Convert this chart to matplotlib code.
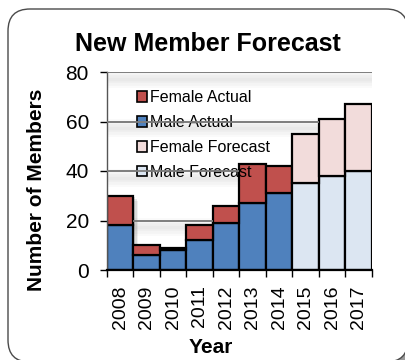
import matplotlib
matplotlib.use("Agg")
import matplotlib.pyplot as plt
import matplotlib.patheffects as pe
import matplotlib.transforms as mtransforms
from matplotlib.patches import FancyBboxPatch, Patch
import numpy as np

plt.rcParams["font.family"] = ["Liberation Sans", "DejaVu Sans"]

# member counts per year
years = ["2008", "2009", "2010", "2011", "2012", "2013", "2014", "2015", "2016", "2017"]
male_actual = [18, 6, 8, 12, 19, 27, 31]
female_actual = [12, 4, 1, 6, 7, 16, 11]
male_forecast = [35, 38, 40]
female_forecast = [20, 23, 27]
y_ticks = [0, 20, 40, 60, 80]

c_female_act = "#C0504D"
c_male_act = "#4F81BD"
c_female_fc = "#F2DCDB"
c_male_fc = "#DCE6F2"
c_grid = "#7f7f7f"

W, H = 406, 360
fig = plt.figure(figsize=(W / 100, H / 100), dpi=100)

# rounded frame with a small drop shadow
px = mtransforms.IdentityTransform()
shadow_box = FancyBboxPatch((11, -5), 400, 353, boxstyle="round,pad=0,rounding_size=22",
                            transform=px, fc="#9a9a9a", ec="none", zorder=-3)
frame = FancyBboxPatch((8, -2), 400, 353, boxstyle="round,pad=0,rounding_size=22",
                       transform=px, fc="white", ec="#4a4a4a", lw=1.0, zorder=-2)
fig.add_artist(shadow_box)
fig.add_artist(frame)

ax = fig.add_axes([107 / W, 90 / H, 265 / W, 198 / H])
ax.patch.set_alpha(0)

x = np.arange(len(years))
xa = x[:len(male_actual)]
xf = x[len(male_actual):]
totals = list(np.add(male_actual, female_actual)) + list(np.add(male_forecast, female_forecast))

# gridlines with a soft shadow underneath
grid_fx = [
    pe.SimpleLineShadow(offset=(1.5, -5), shadow_color="k", alpha=0.018, linewidth=13),
    pe.SimpleLineShadow(offset=(1.5, -5), shadow_color="k", alpha=0.022, linewidth=9),
    pe.SimpleLineShadow(offset=(1.5, -5), shadow_color="k", alpha=0.024, linewidth=5.5),
    pe.SimpleLineShadow(offset=(1.2, -4.8), shadow_color="k", alpha=0.018, linewidth=2.5),
    pe.Normal(),
]
for v in y_ticks[1:]:
    ax.axhline(v, color=c_grid, lw=1.3, zorder=1, path_effects=grid_fx)

# gridline pieces that pass over the legend (only where bars stay below the line)
for v in y_ticks[1:]:
    runs = []
    for i, t in enumerate(totals):
        if t < v:
            if runs and runs[-1][1] == i - 0.5:
                runs[-1][1] = i + 0.5
            else:
                runs.append([i - 0.5, i + 0.5])
    for a, b in runs:
        ax.plot([a, b], [v, v], color=c_grid, lw=1.3, zorder=4, solid_capstyle="butt")

# blurred shadow behind the stacked bars
for d, a in [(1.2, 0.12), (2.4, 0.09), (3.6, 0.06)]:
    sh = ax.bar(x, totals, width=1.0, color="k", alpha=a, lw=0, zorder=1.5)
    off = mtransforms.ScaledTranslation(d / 72, -d / 72, fig.dpi_scale_trans)
    for p in sh:
        p.set_transform(ax.transData + off)

bar_kw = dict(width=1.0, edgecolor="black", linewidth=1.6, zorder=2)
ax.bar(xa, male_actual, color=c_male_act, **bar_kw)
ax.bar(xa, female_actual, bottom=male_actual, color=c_female_act, **bar_kw)
ax.bar(xf, male_forecast, color=c_male_fc, **bar_kw)
ax.bar(xf, female_forecast, bottom=male_forecast, color=c_female_fc, **bar_kw)

ax.set_xlim(-0.5, len(years) - 0.5)
ax.set_ylim(0, 80)
ax.set_yticks(y_ticks)
ax.set_xticks(x)
ax.set_xticklabels(years, rotation=90, va="top")
ax.set_xticks(np.arange(-0.5, len(years), 1), minor=True)
ax.tick_params(axis="x", which="major", length=0, pad=11, labelsize=14)
ax.tick_params(axis="x", which="minor", length=5, width=1.0, direction="out")
ax.tick_params(axis="y", length=5, width=1.0, direction="out", pad=8, labelsize=15)

for s in ["top", "right"]:
    ax.spines[s].set_visible(False)
ax.spines["left"].set_color("#555555")
ax.spines["left"].set_linewidth(1.0)
ax.spines["bottom"].set_linewidth(1.6)

handles = [
    Patch(fc=c_female_act, ec="black", lw=1.2),
    Patch(fc=c_male_act, ec="black", lw=1.2),
    Patch(fc=c_female_fc, ec="black", lw=1.2),
    Patch(fc=c_male_fc, ec="black", lw=1.2),
]
labels = ["Female Actual", "Male Actual", "Female Forecast", "Male Forecast"]
leg = ax.legend(handles, labels, loc="upper left", bbox_to_anchor=(137 / W, 1 - 90 / H),
                bbox_transform=fig.transFigure, frameon=False, fontsize=11.5,
                handlelength=0.65, handleheight=0.65, handletextpad=0.15,
                labelspacing=0.62, borderpad=0, borderaxespad=0)
leg.set_zorder(3)

fig.text(208 / W, 1 - 51 / H, "New Member Forecast", ha="center", va="baseline",
         fontsize=18, fontweight="bold")
fig.text(42 / W, 1 - 190 / H, "Number of Members", ha="center", va="baseline",
         rotation=90, rotation_mode="anchor", fontsize=15, fontweight="bold")
fig.text(211 / W, 1 - 353 / H, "Year", ha="center", va="baseline",
         fontsize=15, fontweight="bold")

fig.savefig("out.png", dpi=100)
